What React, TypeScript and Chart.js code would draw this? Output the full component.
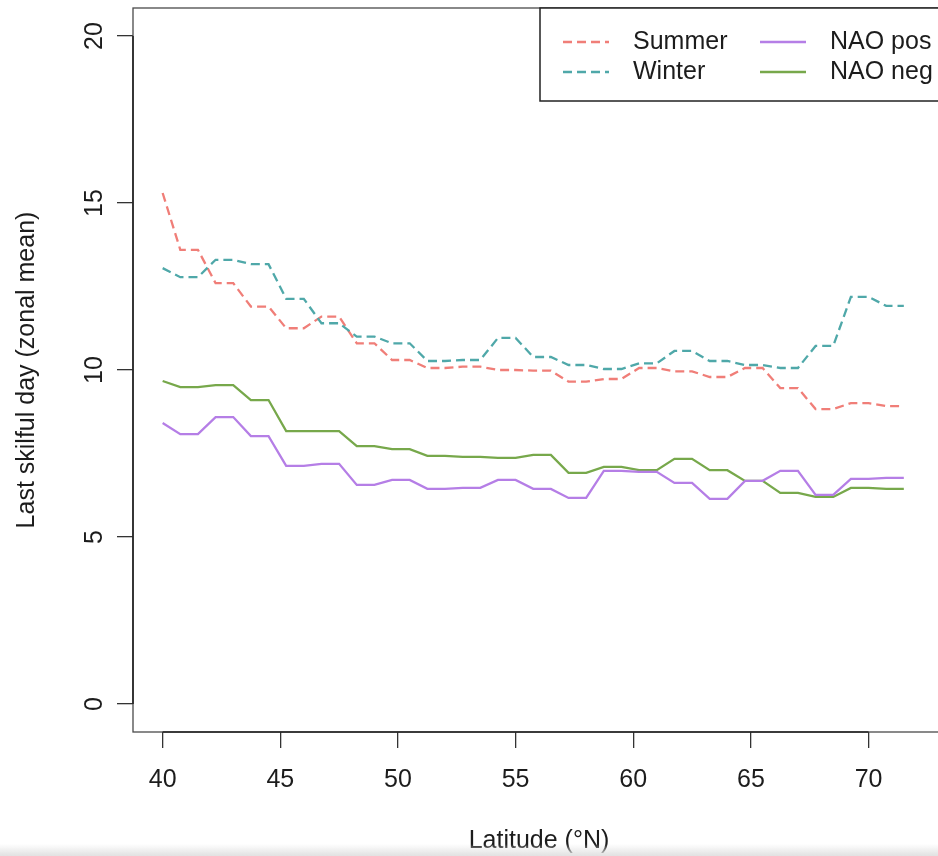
import React, { useEffect, useRef } from "react";
import { Chart, registerables } from "chart.js";

Chart.register(...registerables);

const latitudes = [
  40, 40.75, 41.5, 42.25, 43, 43.75, 44.5, 45.25, 46, 46.75, 47.5, 48.25, 49,
  49.75, 50.5, 51.25, 52, 52.75, 53.5, 54.25, 55, 55.75, 56.5, 57.25, 58,
  58.75, 59.5, 60.25, 61, 61.75, 62.5, 63.25, 64, 64.75, 65.5, 66.25, 67,
  67.75, 68.5, 69.25, 70, 70.75, 71.5,
];

const summer = [
  15.3, 13.6, 13.6, 12.6, 12.6, 11.9, 11.9, 11.25, 11.25, 11.6, 11.6, 10.8,
  10.8, 10.3, 10.3, 10.06, 10.06, 10.1, 10.1, 10.0, 10.0, 9.98, 9.98, 9.65,
  9.65, 9.73, 9.73, 10.06, 10.06, 9.96, 9.96, 9.79, 9.79, 10.06, 10.06, 9.46,
  9.46, 8.83, 8.83, 9.01, 9.01, 8.92, 8.92,
];

const winter = [
  13.05, 12.78, 12.78, 13.3, 13.3, 13.17, 13.17, 12.13, 12.13, 11.4, 11.4,
  11.0, 11.0, 10.8, 10.8, 10.27, 10.27, 10.3, 10.3, 10.96, 10.96, 10.39, 10.39,
  10.15, 10.15, 10.03, 10.03, 10.2, 10.2, 10.57, 10.57, 10.27, 10.27, 10.15,
  10.15, 10.06, 10.06, 10.72, 10.72, 12.19, 12.19, 11.92, 11.92,
];

const naoPos = [
  8.41, 8.08, 8.08, 8.59, 8.59, 8.02, 8.02, 7.13, 7.13, 7.19, 7.19, 6.56, 6.56,
  6.71, 6.71, 6.44, 6.44, 6.47, 6.47, 6.71, 6.71, 6.44, 6.44, 6.17, 6.17, 6.98,
  6.98, 6.95, 6.95, 6.62, 6.62, 6.14, 6.14, 6.68, 6.68, 6.98, 6.98, 6.26, 6.26,
  6.74, 6.74, 6.77, 6.77,
];

const naoNeg = [
  9.67, 9.49, 9.49, 9.55, 9.55, 9.1, 9.1, 8.17, 8.17, 8.17, 8.17, 7.72, 7.72,
  7.63, 7.63, 7.43, 7.43, 7.4, 7.4, 7.37, 7.37, 7.46, 7.46, 6.92, 6.92, 7.1,
  7.1, 7.0, 7.0, 7.34, 7.34, 7.0, 7.0, 6.68, 6.68, 6.32, 6.32, 6.2, 6.2, 6.47,
  6.47, 6.44, 6.44,
];

const seriesLabels = ["Summer", "Winter", "NAO pos", "NAO neg"];
const xTicks = [40, 45, 50, 55, 60, 65, 70];
const yTicks = [0, 5, 10, 15, 20];
const xTitle = "Latitude (\u00B0N)";
const yTitle = "Last skilful day (zonal mean)";

const FONT_FAMILY = "'Liberation Sans', Arial, Helvetica, sans-serif";
const FONT_SIZE = 25;
const TEXT_COLOR = "#1c1c1c";
const COLORS = ["#F07E78", "#4FA8A9", "#B57EE6", "#77A84B"];
const DASH = [9, 5];

const toPts = (ys: number[]) => latitudes.map((x, i) => ({ x, y: ys[i] }));

const decorPlugin = {
  id: "rDecor",
  afterDraw(chart: any) {
    const { ctx, chartArea: ca, scales } = chart;
    const xs = scales.x;
    const ys = scales.y;
    ctx.save();
    // plot box
    ctx.strokeStyle = "#4a4a4a";
    ctx.lineWidth = 1.3;
    ctx.setLineDash([]);
    ctx.strokeRect(ca.left, ca.top, ca.right - ca.left, ca.bottom - ca.top);
    // axis lines (R style: first to last tick)
    ctx.strokeStyle = "#222";
    ctx.lineWidth = 1.6;
    ctx.beginPath();
    ctx.moveTo(xs.getPixelForValue(xTicks[0]), ca.bottom);
    ctx.lineTo(xs.getPixelForValue(xTicks[xTicks.length - 1]), ca.bottom);
    ctx.moveTo(ca.left, ys.getPixelForValue(yTicks[0]));
    ctx.lineTo(ca.left, ys.getPixelForValue(yTicks[yTicks.length - 1]));
    ctx.stroke();

    // y tick labels, rotated like R's default
    ctx.font = `${FONT_SIZE}px ${FONT_FAMILY}`;
    ctx.fillStyle = TEXT_COLOR;
    ctx.textAlign = "center";
    ctx.textBaseline = "middle";
    for (const v of yTicks) {
      ctx.save();
      ctx.translate(ca.left - 38, ys.getPixelForValue(v));
      ctx.rotate(-Math.PI / 2);
      ctx.fillText(String(v), 0, 0);
      ctx.restore();
    }

    // legend (topright)
    const lgRight = ca.right;
    const lgTop = ca.top;
    const lgLeft = ca.right - 405;
    const lgBottom = ca.top + 93;
    ctx.fillStyle = "#fff";
    ctx.fillRect(lgLeft, lgTop, lgRight - lgLeft, lgBottom - lgTop);
    ctx.strokeStyle = "#222";
    ctx.lineWidth = 1.5;
    ctx.strokeRect(lgLeft, lgTop, lgRight - lgLeft, lgBottom - lgTop);

    const ds = chart.data.datasets;
    const slots = [
      { col: 0, row: 0 },
      { col: 0, row: 1 },
      { col: 1, row: 0 },
      { col: 1, row: 1 },
    ];
    ds.forEach((d: any, i: number) => {
      const s = slots[i];
      const lx = lgLeft + 23 + s.col * 197;
      const ty = lgTop + 34 + s.row * 30;
      ctx.strokeStyle = d.borderColor;
      ctx.lineWidth = 2.3;
      ctx.setLineDash(d.borderDash || []);
      ctx.beginPath();
      ctx.moveTo(lx, ty);
      ctx.lineTo(lx + 46, ty);
      ctx.stroke();
      ctx.setLineDash([]);
      ctx.fillStyle = TEXT_COLOR;
      ctx.textAlign = "left";
      ctx.textBaseline = "middle";
      ctx.fillText(d.label, lx + 70, ty);
    });
    ctx.restore();
  },
};

export default function App() {
  const canvasRef = useRef<HTMLCanvasElement | null>(null);

  useEffect(() => {
    const canvas = canvasRef.current;
    if (!canvas) return;
    const font = { family: FONT_FAMILY, size: FONT_SIZE };
    const chart = new Chart(canvas, {
      type: "line",
      data: {
        datasets: [
          {
            label: seriesLabels[0],
            data: toPts(summer),
            borderColor: COLORS[0],
            borderDash: DASH,
            borderWidth: 2.3,
            pointRadius: 0,
            fill: false,
            order: 4,
          },
          {
            label: seriesLabels[1],
            data: toPts(winter),
            borderColor: COLORS[1],
            borderDash: DASH,
            borderWidth: 2.3,
            pointRadius: 0,
            fill: false,
            order: 3,
          },
          {
            label: seriesLabels[2],
            data: toPts(naoPos),
            borderColor: COLORS[2],
            borderWidth: 2.3,
            pointRadius: 0,
            fill: false,
            order: 1,
          },
          {
            label: seriesLabels[3],
            data: toPts(naoNeg),
            borderColor: COLORS[3],
            borderWidth: 2.3,
            pointRadius: 0,
            fill: false,
            order: 2,
          },
        ],
      },
      options: {
        animation: false,
        responsive: false,
        devicePixelRatio: 1,
        layout: { padding: { top: 8, right: 15, left: 0, bottom: 0 } },
        plugins: {
          legend: { display: false },
          tooltip: { enabled: false },
        },
        elements: { line: { tension: 0 } },
        scales: {
          x: {
            type: "linear",
            min: 38.74,
            max: 73.25,
            afterFit: (s: any) => {
              s.height = 124;
            },
            afterBuildTicks: (s: any) => {
              s.ticks = xTicks.map((v) => ({ value: v }));
            },
            grid: {
              display: true,
              drawOnChartArea: false,
              drawTicks: true,
              tickLength: 16,
              color: "#333",
              lineWidth: 1.3,
            },
            border: { display: false },
            ticks: {
              font,
              color: TEXT_COLOR,
              padding: 17,
              maxRotation: 0,
              autoSkip: false,
              callback: (v: any) => String(v),
            },
            title: {
              display: true,
              text: xTitle,
              font,
              color: TEXT_COLOR,
              padding: { top: 0, bottom: 0 },
            },
          },
          y: {
            type: "linear",
            min: -0.84,
            max: 20.84,
            afterFit: (s: any) => {
              s.width = 133;
            },
            afterBuildTicks: (s: any) => {
              s.ticks = yTicks.map((v) => ({ value: v }));
            },
            grid: {
              display: true,
              drawOnChartArea: false,
              drawTicks: true,
              tickLength: 16,
              color: "#333",
              lineWidth: 1.3,
            },
            border: { display: false },
            ticks: { display: false },
            title: {
              display: true,
              text: yTitle,
              font,
              color: TEXT_COLOR,
              padding: { top: 12, bottom: 0 },
            },
          },
        },
      },
      plugins: [decorPlugin],
    });
    return () => chart.destroy();
  }, []);

  return (
    <div
      style={{
        position: "fixed",
        left: 0,
        top: 0,
        width: 938,
        height: 856,
        overflow: "hidden",
        background: "#fff",
      }}
    >
      <canvas ref={canvasRef} width={960} height={856} style={{ display: "block" }} />
      <div
        style={{
          position: "absolute",
          left: 0,
          bottom: 0,
          width: 938,
          height: 12,
          background: "linear-gradient(to bottom, rgba(235,235,235,0), rgba(225,225,225,1))",
          pointerEvents: "none",
        }}
      />
    </div>
  );
}
